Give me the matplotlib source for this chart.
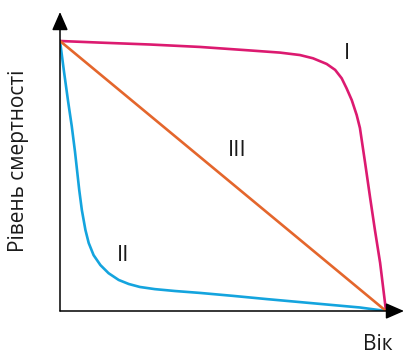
import matplotlib
matplotlib.use("Agg")
import matplotlib.pyplot as plt

plt.rcParams['font.family'] = ['Open Sans', 'DejaVu Sans']

# Curve data (x = age fraction, y = mortality level fraction)
x_I = [0.0, 0.123, 0.276, 0.429, 0.583, 0.675, 0.736, 0.776, 0.818, 0.844, 0.864,
       0.879, 0.895, 0.910, 0.920, 0.936, 0.951, 0.966, 0.982, 0.991, 1.0]
y_I = [1.0, 0.994, 0.987, 0.978, 0.965, 0.957, 0.948, 0.936, 0.915, 0.893, 0.862,
       0.825, 0.781, 0.726, 0.678, 0.548, 0.422, 0.300, 0.178, 0.089, 0.0]

x_II = [0.0, 0.012, 0.025, 0.036, 0.046, 0.059, 0.067, 0.078, 0.088, 0.103, 0.124,
        0.149, 0.180, 0.211, 0.245, 0.291, 0.353, 0.429, 0.531, 0.635, 0.736, 0.837,
        0.920, 1.0]
y_II = [1.0, 0.889, 0.775, 0.685, 0.590, 0.448, 0.374, 0.300, 0.252, 0.207, 0.170,
        0.140, 0.115, 0.100, 0.089, 0.081, 0.074, 0.067, 0.056, 0.044, 0.033, 0.022,
        0.013, 0.0]

x_III = [0.0, 1.0]
y_III = [1.0, 0.0]

labels = ["I", "II", "III"]
label_pos = [(0.880, 0.952), (0.193, 0.207), (0.543, 0.594)]
colors = ["#DC1A70", "#14A4DE", "#E4662C"]

fig = plt.figure(figsize=(4.04, 3.54), dpi=100)
ax = fig.add_axes([60/404, 43/354, 344/404, 299/354])
ax.set_xlim(0, 344/326)
ax.set_ylim(0, 299/270)
ax.axis('off')

arrow = dict(arrowstyle='-|>,head_length=0.8,head_width=0.35', color='black', lw=1.1,
             mutation_scale=14, shrinkA=0, shrinkB=0)
ax.annotate('', xy=(0, 299/270), xytext=(0, 0), arrowprops=arrow, annotation_clip=False)
ax.annotate('', xy=(344/326, 0), xytext=(0, 0), arrowprops=arrow, annotation_clip=False)

ax.plot(x_I, y_I, color=colors[0], lw=1.9, solid_capstyle='round', solid_joinstyle='round')
ax.plot(x_II, y_II, color=colors[1], lw=1.9, solid_capstyle='round', solid_joinstyle='round')
ax.plot(x_III, y_III, color=colors[2], lw=1.9, solid_capstyle='round')

for lab, (lx, ly) in zip(labels, label_pos):
    ax.text(lx, ly, lab, fontsize=16, ha='center', va='center', color='#1a1a1a')

fig.text(19/404, 1 - 161/354, "Рівень смертності", rotation=90, fontsize=15,
         ha='center', va='center', color='#1a1a1a')
fig.text(378/404, 1 - 344/354, "Вік", fontsize=15, ha='center', va='center', color='#1a1a1a')

fig.savefig("out.png", dpi=100)
